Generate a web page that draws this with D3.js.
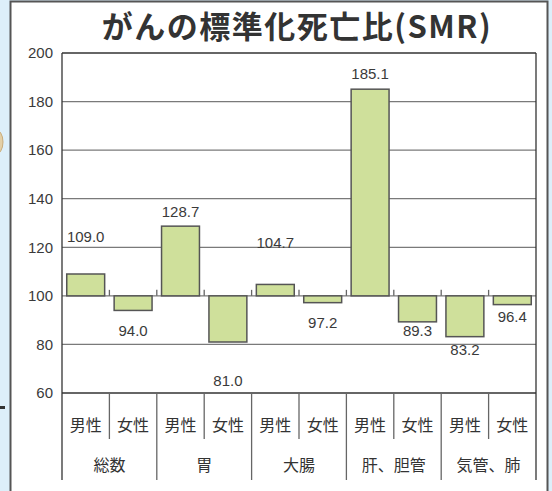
<!DOCTYPE html>
<html>
<head>
<meta charset="utf-8">
<script src="https://cdn.jsdelivr.net/npm/d3@7"></script>
<style>
  body { margin: 0; background: #ddeffa; }
  svg { display: block; }
  .tick text { font-family: "Liberation Sans", sans-serif; font-size: 15px; fill: #3a3a3a; }
  .jp { font-family: "Noto Sans CJK JP", sans-serif; fill: #333; }
  .val { font-family: "Liberation Sans", sans-serif; font-size: 15px; fill: #3a3a3a; }
</style>
</head>
<body>
<div id="main"></div>
<script>
// chart data
var groups = ["総数", "胃", "大腸", "肝、胆管", "気管、肺"];
var sexes = ["男性", "女性"];
var smr = [109.0, 94.0, 128.7, 81.0, 104.7, 97.2, 185.1, 89.3, 83.2, 96.4];
var yTicks = [60, 80, 100, 120, 140, 160, 180, 200];
var titleText = "がんの標準化死亡比(SMR)";

// label nudges (px) so that value labels sit clear of the gridlines
var labelShift = [-37, 20, -14, 39, -42, 20, -15, 9, 13, 12];

var ctx = {
    w: 552,
    h: 491,
    left: 62,
    right: 536,
    top: 53,
    bottom: 393,
    base: 100
};

var createViz = function(){
    var svg = d3.select("#main").append("svg")
      .attr("width", ctx.w)
      .attr("height", ctx.h);

    // light blue page behind the white panel
    svg.append("rect").attr("width", ctx.w).attr("height", ctx.h).attr("fill", "#ddeffa");
    // bits of the neighbouring illustration on the left edge
    svg.append("ellipse").attr("cx", -5).attr("cy", 142).attr("rx", 8).attr("ry", 13)
      .attr("fill", "#e3cfa6").attr("stroke", "#c9ab7a");
    svg.append("rect").attr("x", 0).attr("y", 406).attr("width", 5).attr("height", 3).attr("fill", "#333");
    // panel
    svg.append("rect")
      .attr("x", 10.5).attr("y", 1.5)
      .attr("width", 537).attr("height", 520)
      .attr("fill", "#fff")
      .attr("stroke", "#555").attr("stroke-width", 2);

    // title
    svg.append("text")
      .attr("class", "jp")
      .attr("x", 297).attr("y", 38)
      .attr("text-anchor", "middle")
      .attr("font-size", 31)
      .attr("font-weight", "bold")
      .attr("letter-spacing", 1.5)
      .attr("fill", "#222")
      .text(titleText);

    var keys = d3.range(smr.length);
    var x = d3.scaleBand().domain(keys).range([ctx.left, ctx.right])
      .paddingInner(0.2).paddingOuter(0.1);
    var y = d3.scaleLinear().domain([60, 200]).range([ctx.bottom, ctx.top]);
    var step = x.step();

    var g = svg.append("g");

    // gridlines
    g.selectAll("line.grid")
      .data(yTicks.filter(function(t){ return t > 60 && t < 200; }))
      .enter().append("line")
      .attr("x1", ctx.left).attr("x2", ctx.right)
      .attr("y1", function(d){ return y(d); })
      .attr("y2", function(d){ return y(d); })
      .attr("stroke", "#7a7a7a").attr("stroke-width", 1.2);

    // axis labels
    g.append("g")
      .attr("transform", `translate(${ctx.left},0)`)
      .call(d3.axisLeft(y).tickValues(yTicks).tickSize(0).tickPadding(9).tickFormat(d3.format("d")))
      .call(function(a){ a.select(".domain").remove(); });

    // top and bottom lines of the plot
    [200, 60].forEach(function(t){
      g.append("line")
        .attr("x1", ctx.left).attr("x2", ctx.right)
        .attr("y1", y(t)).attr("y2", y(t))
        .attr("stroke", "#333").attr("stroke-width", 1.3);
    });

    // bars from the 100 baseline
    g.selectAll("rect.bar")
      .data(keys)
      .enter().append("rect")
      .attr("x", function(i){ return x(i); })
      .attr("width", x.bandwidth())
      .attr("y", function(i){ return y(Math.max(smr[i], ctx.base)); })
      .attr("height", function(i){ return Math.abs(y(smr[i]) - y(ctx.base)); })
      .attr("fill", "#cfe09b")
      .attr("stroke", "#555").attr("stroke-width", 1.5);

    // little ticks on the baseline between categories
    g.selectAll("line.tk")
      .data(d3.range(1, smr.length))
      .enter().append("line")
      .attr("x1", function(i){ return ctx.left + i*step; })
      .attr("x2", function(i){ return ctx.left + i*step; })
      .attr("y1", y(ctx.base) - 6).attr("y2", y(ctx.base))
      .attr("stroke", "#666").attr("stroke-width", 1.3);

    // value labels
    g.selectAll("text.val")
      .data(keys)
      .enter().append("text")
      .attr("class", "val")
      .attr("x", function(i){ return x(i) + x.bandwidth()/2; })
      .attr("y", function(i){ return y(smr[i]) + labelShift[i]; })
      .attr("dy", "0.35em")
      .attr("text-anchor", "middle")
      .text(function(i){ return d3.format(".1f")(smr[i]); });

    // separators in the category area
    g.selectAll("line.sep")
      .data(d3.range(0, smr.length + 1))
      .enter().append("line")
      .attr("x1", function(i){ return ctx.left + i*step; })
      .attr("x2", function(i){ return ctx.left + i*step; })
      .attr("y1", function(i){ return (i === 0 || i === smr.length) ? ctx.top : ctx.bottom; })
      .attr("y2", function(i){ return i % 2 === 0 ? 480 : 439; })
      .attr("stroke", function(i){ return (i === 0 || i === smr.length) ? "#333" : "#666"; })
      .attr("stroke-width", 1.3);

    // sex labels
    g.selectAll("text.sex")
      .data(keys)
      .enter().append("text")
      .attr("class", "jp")
      .attr("x", function(i){ return ctx.left + (i + 0.5)*step; })
      .attr("y", 425)
      .attr("dy", "0.35em")
      .attr("text-anchor", "middle")
      .attr("font-size", 16)
      .text(function(i){ return sexes[i % 2]; });

    // group labels
    g.selectAll("text.grp")
      .data(groups)
      .enter().append("text")
      .attr("class", "jp")
      .attr("x", function(d, i){ return ctx.left + (2*i + 1)*step; })
      .attr("y", 465)
      .attr("dy", "0.35em")
      .attr("text-anchor", "middle")
      .attr("font-size", 16)
      .text(function(d){ return d; });
};

createViz();
</script>
</body>
</html>
